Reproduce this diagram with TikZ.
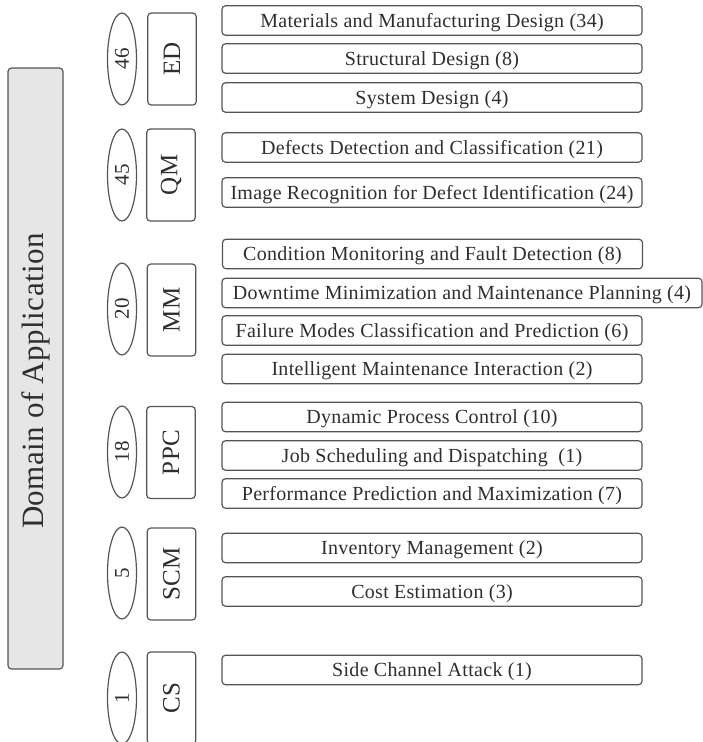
\documentclass[tikz,border=0pt]{standalone}
\usepackage{fontspec}
\setmainfont{Liberation Serif}[LetterSpace=1.5]
\usetikzlibrary{shapes.geometric}
\definecolor{linecol}{HTML}{555555}
\definecolor{txtcol}{HTML}{2E2E2E}
\definecolor{panelfill}{HTML}{E6E6E6}
\tikzset{
  basebox/.style={draw=linecol, line width=1.2pt, text=txtcol, inner sep=0pt},
  itembox/.style={basebox, rounded corners=3.5pt, minimum width=420pt, minimum height=29.5pt,
    text height=13.5pt, text depth=0pt, font=\fontsize{20}{24}\selectfont},
  catbox/.style={basebox, rounded corners=3.5pt, rotate=90, minimum width=92pt, minimum height=48.5pt,
    font=\fontsize{25}{30}\selectfont},
  countbox/.style={basebox, ellipse, rotate=90, minimum width=92pt, minimum height=29pt,
    font=\fontsize{21}{25}\selectfont},
  headbox/.style={basebox, fill=panelfill, rounded corners=3.5pt, minimum width=55pt,
    minimum height=601pt},
  headtext/.style={text=txtcol, rotate=90, inner sep=0pt, font=\fontsize{31}{36}\selectfont}
}
\begin{document}
\begin{tikzpicture}[x=1pt, y=-1pt]
\useasboundingbox (0,0) rectangle (703,742);
\begin{scope}
\clip (0,0) rectangle (703,742);

% overall heading: panel and its vertical title
\node[headbox] (dom) at (35.5,368.5) {};
\node[headtext] (domtitle) at (35.5,381) {Domain of Application};

% category counts and abbreviations
\node[countbox] (nED)  at (122,59)  {46};
\node[catbox]   (cED)  at (172,59)  {ED};
\node[countbox] (nQM)  at (122,175) {45};
\node[catbox]   (cQM)  at (171,175) {QM};
\node[countbox] (nMM)  at (122,309) {20};
\node[catbox]   (cMM)  at (171.5,310) {MM};
\node[countbox] (nPPC) at (122,452) {18};
\node[catbox]   (cPPC) at (171,452.5) {PPC};
\node[countbox] (nSCM) at (122,573) {5};
\node[catbox]   (cSCM) at (171.5,574) {SCM};
\node[countbox] (nCS)  at (122,698) {1};
\node[catbox]   (cCS)  at (171.5,698) {CS};

% sub-areas
\node[itembox] (ed1) at (432,20.5)  {Materials and Manufacturing Design (34)};
\node[itembox] (ed2) at (432,58.5)  {Structural Design (8)};
\node[itembox] (ed3) at (432,97.5)  {System Design (4)};

\node[itembox] (qm1) at (432,147.5) {Defects Detection and Classification (21)};
\node[itembox] (qm2) at (432,192.5) {Image Recognition for Defect Identification (24)};

\node[itembox] (mm1) at (432.5,254) {Condition Monitoring and Fault Detection (8)};
\node[itembox, minimum width=480pt] (mm2) at (462,293) {Downtime Minimization and Maintenance Planning (4)};
\node[itembox] (mm3) at (432,330.5) {Failure Modes Classification and Prediction (6)};
\node[itembox] (mm4) at (432,369)   {Intelligent Maintenance Interaction (2)};

\node[itembox] (ppc1) at (432,417)  {Dynamic Process Control (10)};
\node[itembox] (ppc2) at (432,455.5) {Job Scheduling and Dispatching\ \ (1)};
\node[itembox] (ppc3) at (432,493.5) {Performance Prediction and Maximization (7)};

\node[itembox] (scm1) at (432,548)  {Inventory Management (2)};
\node[itembox] (scm2) at (432,591.5) {Cost Estimation (3)};

\node[itembox] (cs1) at (432,670)   {Side Channel Attack (1)};
\end{scope}
\end{tikzpicture}
\end{document}
